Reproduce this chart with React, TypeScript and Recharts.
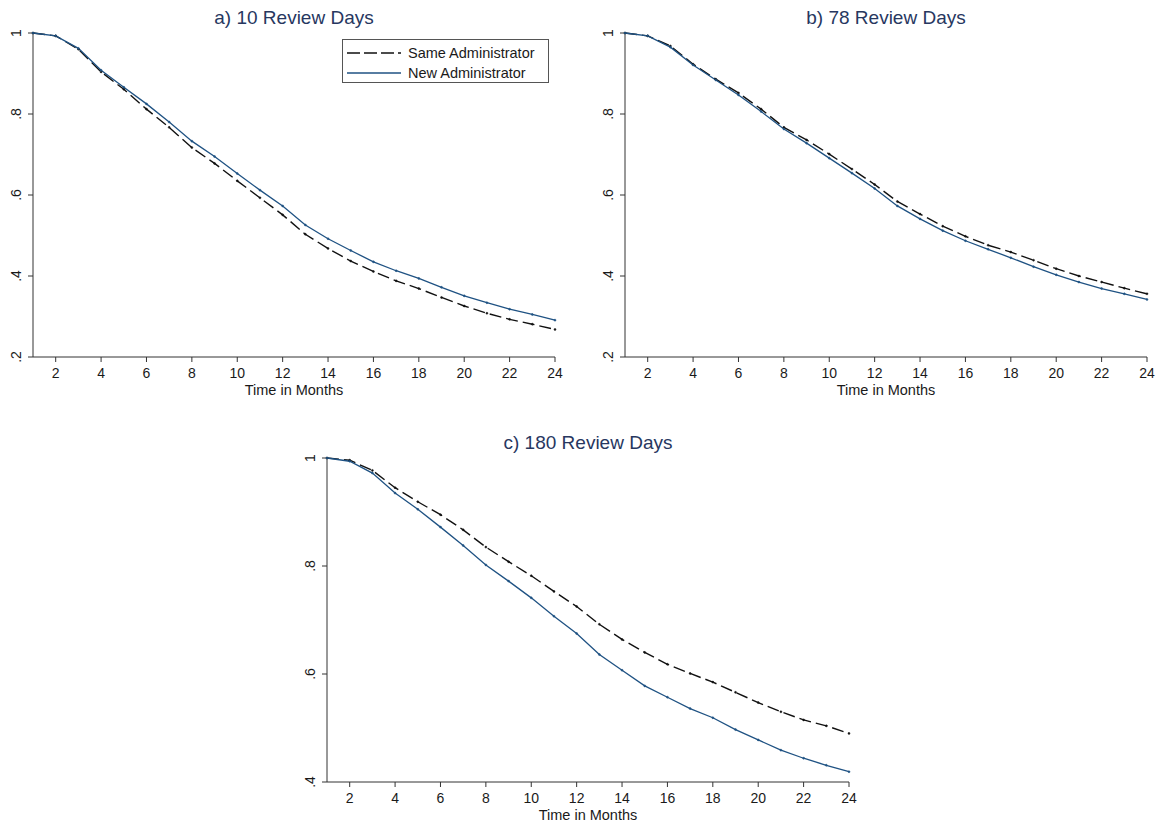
import React from "react"
import { LineChart, Line, XAxis, YAxis, Legend } from "recharts"

// months on the x axis
const months = [1, 2, 3, 4, 5, 6, 7, 8, 9, 10, 11, 12, 13, 14, 15, 16, 17, 18, 19, 20, 21, 22, 23, 24]
const xTicks = [2, 4, 6, 8, 10, 12, 14, 16, 18, 20, 22, 24]

// a) 10 review days
const sameA = [1.0, 0.993, 0.96, 0.904, 0.861, 0.812, 0.767, 0.717, 0.678, 0.635, 0.593, 0.551, 0.503, 0.468, 0.437, 0.411, 0.388, 0.369, 0.347, 0.326, 0.308, 0.293, 0.281, 0.268]
const newA = [1.0, 0.993, 0.962, 0.908, 0.866, 0.825, 0.78, 0.733, 0.695, 0.653, 0.612, 0.573, 0.526, 0.492, 0.463, 0.435, 0.413, 0.394, 0.372, 0.351, 0.334, 0.318, 0.305, 0.291]

// b) 78 review days
const sameB = [1.0, 0.993, 0.968, 0.923, 0.886, 0.852, 0.812, 0.767, 0.736, 0.701, 0.664, 0.626, 0.584, 0.553, 0.523, 0.498, 0.476, 0.459, 0.439, 0.418, 0.4, 0.385, 0.37, 0.356]
const newB = [1.0, 0.993, 0.965, 0.921, 0.884, 0.847, 0.806, 0.763, 0.728, 0.691, 0.654, 0.616, 0.573, 0.541, 0.512, 0.487, 0.466, 0.445, 0.423, 0.403, 0.385, 0.369, 0.356, 0.342]

// c) 180 review days
const sameC = [1.0, 0.996, 0.977, 0.945, 0.919, 0.895, 0.867, 0.835, 0.808, 0.782, 0.753, 0.725, 0.692, 0.664, 0.64, 0.618, 0.601, 0.585, 0.566, 0.547, 0.53, 0.515, 0.504, 0.49]
const newC = [1.0, 0.994, 0.972, 0.935, 0.905, 0.872, 0.838, 0.802, 0.772, 0.741, 0.707, 0.675, 0.636, 0.607, 0.578, 0.557, 0.536, 0.519, 0.497, 0.478, 0.459, 0.444, 0.431, 0.419]

const yTicksAB = [0.2, 0.4, 0.6, 0.8, 1]
const yTicksC = [0.4, 0.6, 0.8, 1]

const FONT = "'Liberation Sans', Arial, Helvetica, sans-serif"
const AXIS = "#333"
const BLACK = "#111"
const BLUE = "#1f5283"
const TITLE = "#27375f"
const TEXT = "#1a1a1a"

const fmtY = (v: number) => (v === 1 ? "1" : String(v).replace(/^0/, ""))

const makeRows = (same: number[], nw: number[]) =>
  months.map((m, i) => ({ m, same: same[i], nw: nw[i] }))

const YTick = (props: any) => {
  const { x, y, payload } = props
  const tx = x - 7
  return (
    <text
      x={tx}
      y={y}
      transform={`rotate(-90 ${tx} ${y})`}
      textAnchor="middle"
      fontSize={14}
      fontFamily={FONT}
      fill={TEXT}
    >
      {fmtY(payload.value)}
    </text>
  )
}

const LegendBox = () => (
  <div
    style={{
      border: "1px solid #555",
      background: "#fff",
      width: 207,
      height: 44,
      boxSizing: "border-box",
      paddingTop: 3,
      fontFamily: FONT,
      fontSize: 14.5,
      color: TEXT,
    }}
  >
    {[
      { label: "Same Administrator", color: BLACK, dash: "13 4" },
      { label: "New Administrator", color: BLUE, dash: undefined },
    ].map((it) => (
      <div key={it.label} style={{ display: "flex", alignItems: "center", height: 20 }}>
        <svg width={61} height={10} style={{ marginLeft: 4 }}>
          <line x1={0} y1={5} x2={54} y2={5} stroke={it.color} strokeWidth={1.3} strokeDasharray={it.dash} />
        </svg>
        <span>{it.label}</span>
      </div>
    ))}
  </div>
)

interface PanelProps {
  title: string
  left: number
  top: number
  rows: { m: number; same: number; nw: number }[]
  yDomain: [number, number]
  yTicks: number[]
  legend?: boolean
}

const Panel = ({ title, left, top, rows, yDomain, yTicks, legend }: PanelProps) => {
  const width = 572
  const height = 402
  const margin = { top: 33, right: 17, left: 0, bottom: 0 }
  return (
    <div style={{ position: "absolute", left, top, width, height }}>
      <div
        style={{
          position: "absolute",
          left: 33,
          width: width - 33 - margin.right,
          top: 7,
          textAlign: "center",
          fontFamily: FONT,
          fontSize: 19,
          color: TITLE,
          whiteSpace: "nowrap",
        }}
      >
        {title}
      </div>
      <LineChart width={width} height={height} data={rows} margin={margin}>
        <XAxis
          dataKey="m"
          type="number"
          domain={[1, 24]}
          ticks={xTicks}
          allowDecimals={false}
          height={45}
          tickSize={5}
          tickMargin={6}
          stroke={AXIS}
          tick={{ fontSize: 14, fontFamily: FONT, fill: TEXT }}
          label={{
            value: "Time in Months",
            position: "insideBottom",
            offset: 7,
            style: { fontSize: 14.5, fontFamily: FONT, fill: TEXT },
          }}
        />
        <YAxis
          type="number"
          domain={yDomain}
          ticks={yTicks}
          width={33}
          tickSize={5}
          tickMargin={0}
          stroke={AXIS}
          tick={<YTick />}
          interval={0}
        />
        <Line
          type="linear"
          dataKey="same"
          name="Same Administrator"
          stroke={BLACK}
          strokeWidth={1.4}
          strokeDasharray="12 5"
          dot={{ r: 1, fill: BLACK, stroke: BLACK, strokeWidth: 0.5, strokeDasharray: "" }}
          isAnimationActive={false}
        />
        <Line
          type="linear"
          dataKey="nw"
          name="New Administrator"
          stroke={BLUE}
          strokeWidth={1.3}
          dot={{ r: 1, fill: BLUE, stroke: BLUE, strokeWidth: 0.5 }}
          isAnimationActive={false}
        />
        {legend && (
          <Legend
            layout="horizontal"
            verticalAlign="middle"
            align="center"
            content={<LegendBox />}
            wrapperStyle={{ position: "absolute", left: 342, top: 39, width: 207, height: 44 }}
          />
        )}
      </LineChart>
    </div>
  )
}

export default function App() {
  return (
    <div style={{ position: "absolute", left: 0, top: 0, width: 1159, height: 821, background: "#fff" }}>
      <Panel title="a) 10 Review Days" left={0} top={0} rows={makeRows(sameA, newA)} yDomain={[0.2, 1]} yTicks={yTicksAB} legend />
      <Panel title="b) 78 Review Days" left={592} top={0} rows={makeRows(sameB, newB)} yDomain={[0.2, 1]} yTicks={yTicksAB} />
      <Panel title="c) 180 Review Days" left={294} top={425} rows={makeRows(sameC, newC)} yDomain={[0.4, 1]} yTicks={yTicksC} />
    </div>
  )
}
